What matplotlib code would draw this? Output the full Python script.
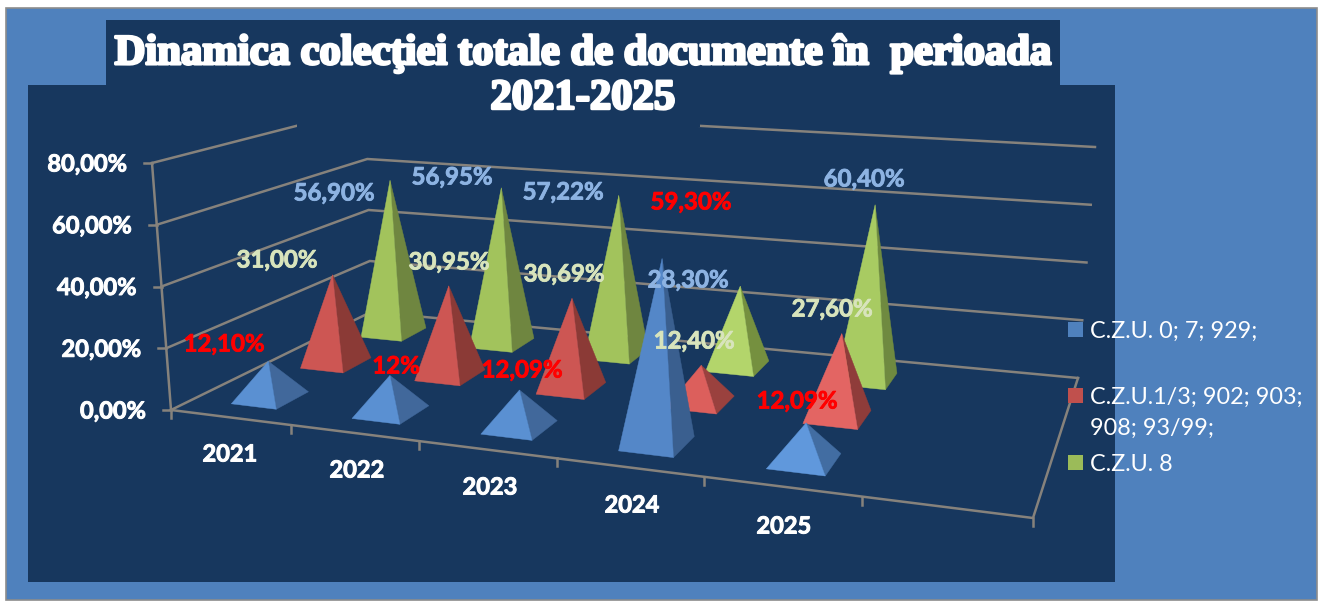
import numpy as np
import matplotlib
matplotlib.use("Agg")
import matplotlib.pyplot as plt
from matplotlib.patches import Polygon, Rectangle
import matplotlib.patheffects as pe

categories = ["2021", "2022", "2023", "2024", "2025", ""]
series_names = ["C.Z.U. 0; 7; 929;", "C.Z.U.1/3; 902; 903;\n908; 93/99;", "C.Z.U. 8"]
blue_values = [12.10, 12.00, 12.09, 59.30, 12.09]
red_values = [31.00, 30.95, 30.69, 12.40, 27.60]
green_values = [56.90, 56.95, 57.22, 28.30, 60.40]
blue_labels = ["12,10%", "12%", "12,09%", "59,30%", "12,09%"]
red_labels = ["31,00%", "30,95%", "30,69%", "12,40%", "27,60%"]
green_labels = ["56,90%", "56,95%", "57,22%", "28,30%", "60,40%"]
y_ticks = [0, 20, 40, 60, 80]
y_tick_labels = ["0,00%", "20,00%", "40,00%", "60,00%", "80,00%"]

# layout (pixels)
W, H = 1322, 603
FLOOR = np.array([[171, 410], [1033, 518], [1078, 378], [371, 312]], float)  # FL FR BR BL
HEIGHT = np.array([[-19, -247], [25, -262], [17, -231], [-5, -204]], float)
BASE_DU, BASE_DW = 0.19, 0.075
CENTER = 0.52
DEPTHS = [1/6, 0.49, 0.815]

src = np.array([[0, 0], [1, 0], [1, 1], [0, 1]], float)
A = []
b = []
for (u, w), (x, y) in zip(src, FLOOR):
    A.append([u, w, 1, 0, 0, 0, -u*x, -w*x]); b.append(x)
    A.append([0, 0, 0, u, w, 1, -u*y, -w*y]); b.append(y)
h = np.linalg.solve(np.array(A), np.array(b))
M = np.append(h, 1).reshape(3, 3)


def project(cat, depth, value=0.0):
    u = cat / 6.0
    p = M @ np.array([u, depth, 1.0])
    xy = p[:2] / p[2]
    hv = (HEIGHT[0]*(1-u)*(1-depth) + HEIGHT[1]*u*(1-depth)
          + HEIGHT[2]*u*depth + HEIGHT[3]*(1-u)*depth)
    return xy + hv * value / 80.0


fig = plt.figure(figsize=(W/100, H/100), dpi=100, facecolor="white")
ax = fig.add_axes([0, 0, 1, 1])
ax.set_xlim(0, W)
ax.set_ylim(H, 0)
ax.axis("off")

ax.add_patch(Rectangle((5.5, 7.5), 1311, 592, fc="#4f81bd", ec="#8c8c8c", lw=1.2))
ax.add_patch(Rectangle((28, 85), 1087, 497, fc="#17375e", ec="none"))
ax.add_patch(Rectangle((106, 20), 954, 66, fc="#17375e", ec="none"))
# the title box hides the top of the walls
ax.add_patch(Rectangle((297, 85), 403, 42, fc="#17375e", ec="none", zorder=2.5))

GRID = "#86827c"
BOLD = [pe.withStroke(linewidth=0.7, foreground="white")]
# walls
for v in y_ticks:
    pts = [project(0, 0, v), project(0, 1, v), project(6, 1, v)]
    xs, ys = zip(*pts)
    ax.plot(xs, ys, color=GRID, lw=1.8, solid_joinstyle="miter", zorder=2)
    t = project(0, 0, v)
    ax.plot([t[0]-8, t[0]], [t[1], t[1]], color=GRID, lw=1.8, zorder=2)
# vertical axis, floor outline
a, b2 = project(0, 0, 0), project(0, 0, 80)
ax.plot([a[0], b2[0]], [a[1], b2[1]], color=GRID, lw=1.8, zorder=2)
corners = [project(0, 0), project(6, 0), project(6, 1)]
xs, ys = zip(*corners)
ax.plot(xs, ys, color=GRID, lw=1.8, zorder=2)
for i in range(7):
    t = project(i, 0)
    ax.plot([t[0], t[0]], [t[1], t[1]+8], color=GRID, lw=1.8, zorder=2)

for v, lab in zip(y_ticks, y_tick_labels):
    t = project(0, 0, v)
    ax.text(t[0]-25, t[1]+1, lab, color="white", fontsize=17, fontweight="bold",
            family="Lato", ha="right", va="center", zorder=6, path_effects=BOLD)

cat_label_pos = [(230, 454), (357, 470), (490, 487), (632, 505), (784, 526)]
for c, (x, y) in zip(categories, cat_label_pos):
    ax.text(x, y, c, color="white", fontsize=17, fontweight="bold", family="Lato",
            ha="center", va="center", zorder=6, path_effects=BOLD)

# shades: (front, side) for each pyramid
blue_front = ["#5a90d2", "#5a90d2", "#5a90d2", "#5487c8", "#6098dc"]
blue_side = ["#41689b", "#41689b", "#41689b", "#3a5f8f", "#426da2"]
red_front = ["#cd5653", "#cd5653", "#cd5653", "#dc5f5c", "#e36563"]
red_side = ["#8b3a36", "#8b3a36", "#8b3a36", "#9a413e", "#8f3c3a"]
green_front = ["#a2c35c", "#a2c35c", "#a2c35c", "#b3d56b", "#a8cb62"]
green_side = ["#6f8640", "#6f8640", "#6f8640", "#75903f", "#6f8a40"]

rows = [(2, green_values, green_front, green_side),
        (1, red_values, red_front, red_side),
        (0, blue_values, blue_front, blue_side)]
z = 3.0
for s, vals, fronts, sides in rows:
    for i, v in enumerate(vals):
        c, d = i + CENTER, DEPTHS[s]
        fl = project(c-BASE_DU, d-BASE_DW)
        fr = project(c+BASE_DU, d-BASE_DW)
        br = project(c+BASE_DU, d+BASE_DW)
        apex = project(c, d, v)
        ax.add_patch(Polygon([fr, br, apex], closed=True, fc=sides[i], ec=sides[i], lw=0.3, zorder=z))
        ax.add_patch(Polygon([fl, fr, apex], closed=True, fc=fronts[i], ec=fronts[i], lw=0.3, zorder=z))
        z += 0.01

LBL_BLUE = "#8db3e2"
LBL_CREAM = "#d8e4bc"
green_pos = [(334, 193), (452, 177), (563, 192), (688, 280), (864, 179)]
red_pos = [(277, 260), (449, 262), (564, 274), (694, 341), (832, 309)]
blue_pos = [(224, 344), (396, 366), (522, 370), (691, 202), (797, 401)]
for labs, pos, col in [(green_labels, green_pos, LBL_BLUE), (red_labels, red_pos, LBL_CREAM),
                       (blue_labels, blue_pos, "#ff0000")]:
    for lab, (x, y) in zip(labs, pos):
        ax.text(x, y, lab, color=col, fontsize=17.3, fontweight="bold", family="Lato",
                ha="center", va="center", zorder=7,
                path_effects=[pe.withStroke(linewidth=0.6, foreground=col)])

# legend
leg_colors = ["#4f81bd", "#c0504d", "#9bbb59"]
leg_y = [330, 396, 463]
for col, name, y in zip(leg_colors, series_names, leg_y):
    ax.add_patch(Rectangle((1068, y-8), 15, 15, fc=col, ec="none", zorder=6))
    ax.text(1090, y-9, name, color="white", fontsize=16.8, family="Lato", ha="left", va="top",
            linespacing=1.55, zorder=6)

title = ax.text(583, 76.5, "Dinamica colecţiei totale de documente în  perioada\n2021-2025", color="white",
                fontsize=30.7, fontweight="bold", family="Liberation Serif", ha="center", va="center",
                linespacing=1.23, zorder=8)
title.set_path_effects([pe.withStroke(linewidth=2, foreground="white")])

fig.savefig("out.png", dpi=100, facecolor="white")
